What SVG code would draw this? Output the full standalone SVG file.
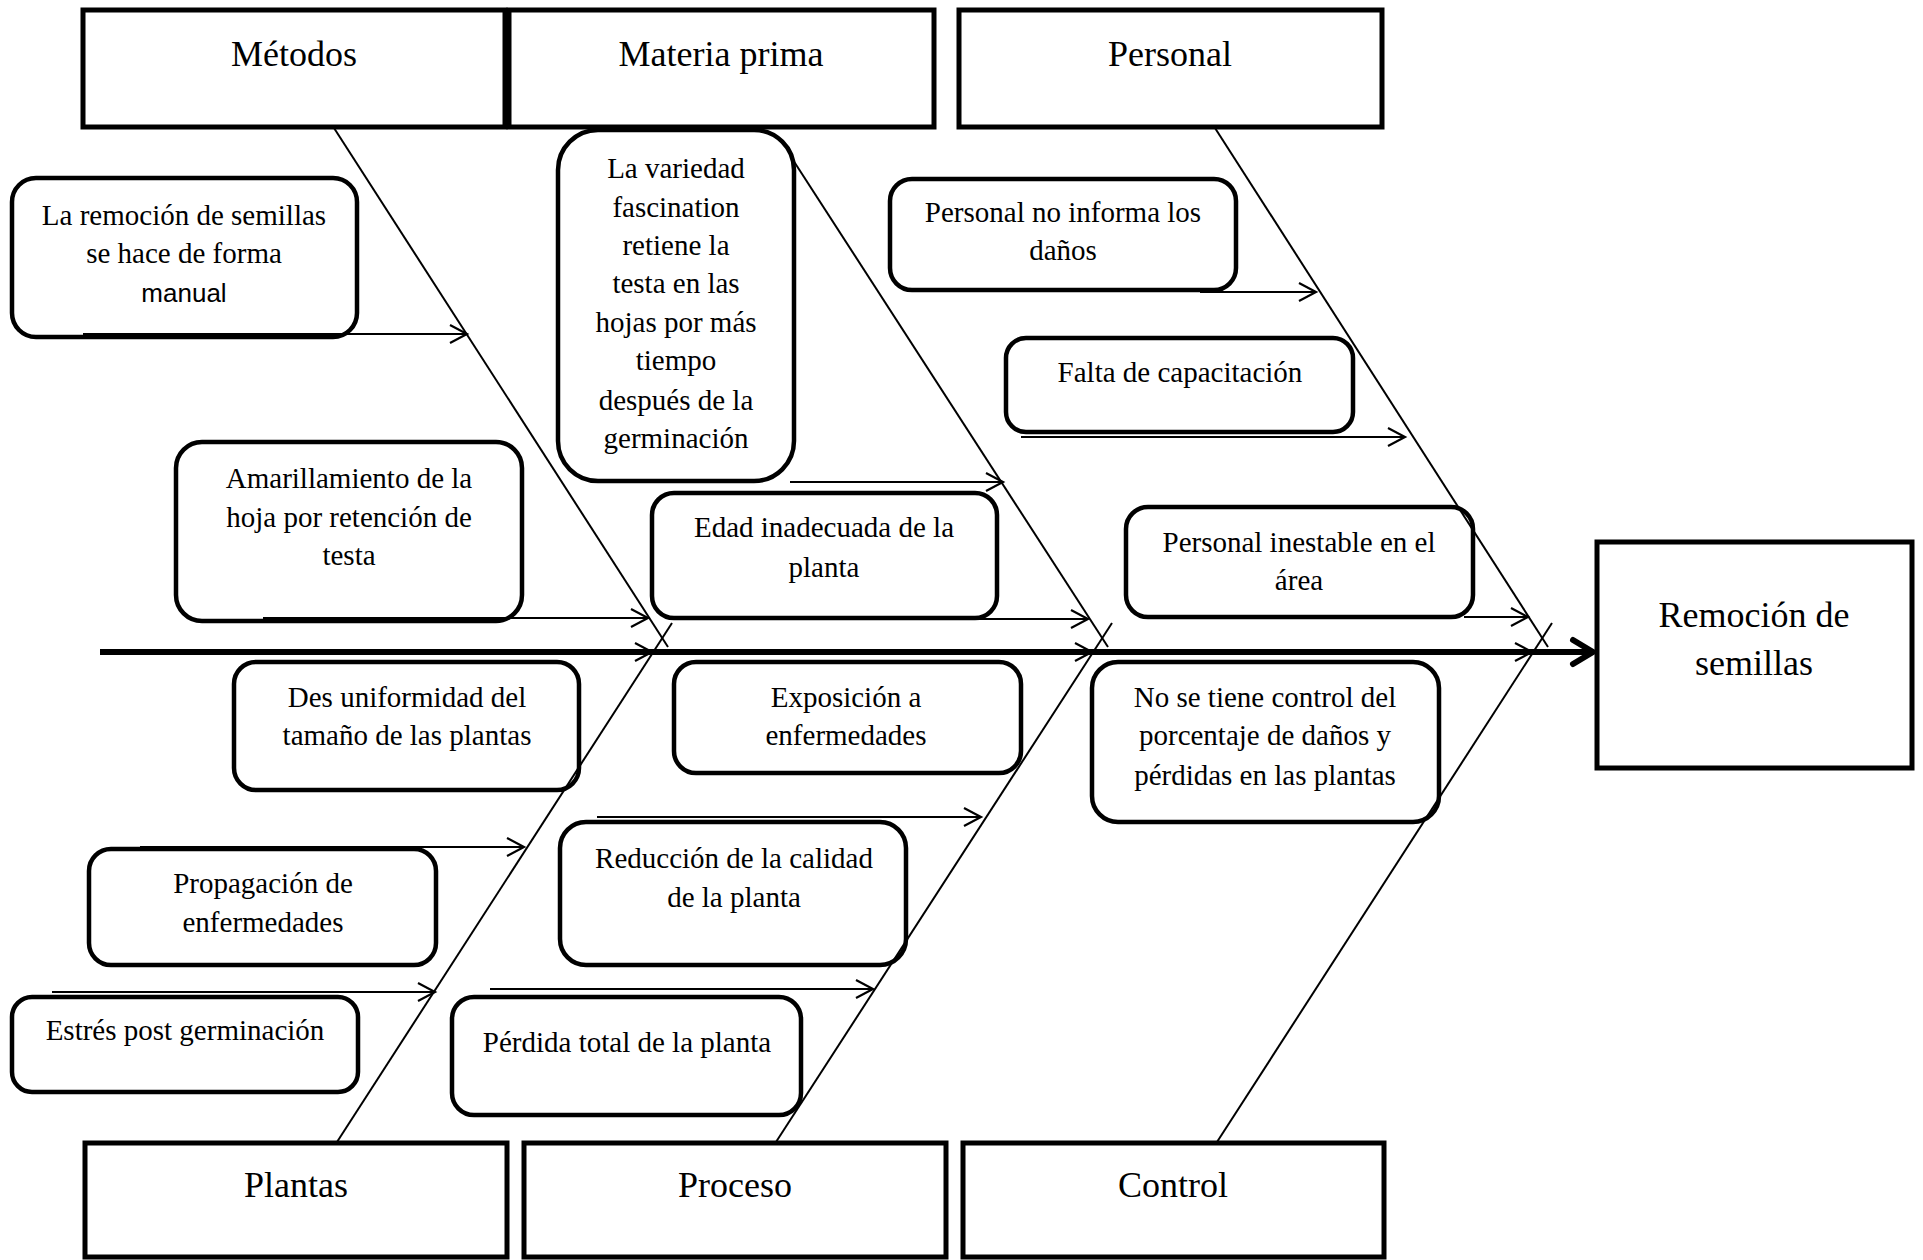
<svg xmlns="http://www.w3.org/2000/svg" width="1923" height="1260" viewBox="0 0 1923 1260">
<style>
.cat{fill:#fff;stroke:#000;stroke-width:5}
.cause{fill:#fff;stroke:#000;stroke-width:4.5}
.t{font-family:"Liberation Serif","Times New Roman",serif;fill:#000;text-anchor:middle}
.big{font-size:36px}
.sm{font-size:29px}
.sans{font-family:"Liberation Sans",Arial,sans-serif;font-size:26px;fill:#000;text-anchor:middle}
.bone{stroke:#000;stroke-width:2;fill:none}
.arr{stroke:#000;stroke-width:2.2;fill:none}
.head{stroke:#000;stroke-width:2.2;fill:none}
.spine{stroke:#000;stroke-width:6;fill:none}
</style>
<rect width="1923" height="1260" fill="#fff"/>
<g id="nodes">
<g id="metodos"><rect class="cat" x="83" y="10" width="422" height="117"/><text class="t big" x="294" y="66">Métodos</text></g>
<g id="materia-prima"><rect class="cat" x="509" y="10" width="425" height="117"/><text class="t big" x="721" y="66">Materia prima</text></g>
<g id="personal"><rect class="cat" x="959" y="10" width="423" height="117"/><text class="t big" x="1170" y="66">Personal</text></g>
<g id="plantas"><rect class="cat" x="85" y="1143" width="422" height="114"/><text class="t big" x="296" y="1197">Plantas</text></g>
<g id="proceso"><rect class="cat" x="524" y="1143" width="422" height="114"/><text class="t big" x="735" y="1197">Proceso</text></g>
<g id="control"><rect class="cat" x="963" y="1143" width="421" height="114"/><text class="t big" x="1173" y="1197">Control</text></g>
<g id="efecto"><rect class="cat" x="1597" y="542" width="315" height="226"/><text class="t big" x="1754" y="627">Remoción de</text><text class="t big" x="1754" y="675">semillas</text></g>

<g id="c-remocion"><rect class="cause" x="12" y="178" width="345" height="159" rx="24"/><text class="t sm" x="184" y="225">La remoción de semillas</text><text class="t sm" x="184" y="263">se hace de forma</text><text class="sans" x="184" y="302">manual</text></g>
<g id="c-variedad"><rect class="cause" x="558" y="130" width="236" height="351" rx="40"/><text class="t sm" x="676" y="178">La variedad</text><text class="t sm" x="676" y="217">fascination</text><text class="t sm" x="676" y="255">retiene la</text><text class="t sm" x="676" y="293">testa en las</text><text class="t sm" x="676" y="332">hojas por más</text><text class="t sm" x="676" y="370">tiempo</text><text class="t sm" x="676" y="410">después de la</text><text class="t sm" x="676" y="448">germinación</text></g>
<g id="c-amarillamiento"><rect class="cause" x="176" y="442" width="346" height="179" rx="26"/><text class="t sm" x="349" y="488">Amarillamiento de la</text><text class="t sm" x="349" y="527">hoja por retención de</text><text class="t sm" x="349" y="565">testa</text></g>
<g id="c-edad"><rect class="cause" x="652" y="493" width="345" height="125" rx="22"/><text class="t sm" x="824" y="537">Edad inadecuada de la</text><text class="t sm" x="824" y="577">planta</text></g>
<g id="c-desuniformidad"><rect class="cause" x="234" y="662" width="345" height="128" rx="22"/><text class="t sm" x="407" y="707">Des uniformidad del</text><text class="t sm" x="407" y="745">tamaño de las plantas</text></g>
<g id="c-exposicion"><rect class="cause" x="674" y="662" width="347" height="111" rx="22"/><text class="t sm" x="846" y="707">Exposición a</text><text class="t sm" x="846" y="745">enfermedades</text></g>
<g id="c-noinforma"><rect class="cause" x="890" y="179" width="346" height="111" rx="22"/><text class="t sm" x="1063" y="222">Personal no informa los</text><text class="t sm" x="1063" y="260">daños</text></g>
<g id="c-capacitacion"><rect class="cause" x="1006" y="338" width="347" height="94" rx="20"/><text class="t sm" x="1180" y="382">Falta de capacitación</text></g>
<g id="c-inestable"><rect class="cause" x="1126" y="507" width="347" height="110" rx="22"/><text class="t sm" x="1299" y="552">Personal inestable en el</text><text class="t sm" x="1299" y="590">área</text></g>
<g id="c-nocontrol"><rect class="cause" x="1092" y="662" width="347" height="160" rx="26"/><text class="t sm" x="1265" y="707">No se tiene control del</text><text class="t sm" x="1265" y="745">porcentaje de daños y</text><text class="t sm" x="1265" y="785">pérdidas en las plantas</text></g>
<g id="c-propagacion"><rect class="cause" x="89" y="849" width="347" height="116" rx="22"/><text class="t sm" x="263" y="893">Propagación de</text><text class="t sm" x="263" y="932">enfermedades</text></g>
<g id="c-estres"><rect class="cause" x="12" y="997" width="346" height="95" rx="20"/><text class="t sm" x="185" y="1040">Estrés post germinación</text></g>
<g id="c-reduccion"><rect class="cause" x="560" y="822" width="346" height="143" rx="26"/><text class="t sm" x="734" y="868">Reducción de la calidad</text><text class="t sm" x="734" y="907">de la planta</text></g>
<g id="c-perdida"><rect class="cause" x="452" y="997" width="349" height="118" rx="22"/><text class="t sm" x="627" y="1052">Pérdida total de la planta</text></g>
</g>
<g id="connectors">
<line class="bone" x1="334" y1="128" x2="668" y2="647"/>
<line class="bone" x1="793" y1="160" x2="1108" y2="647"/>
<line class="bone" x1="1215" y1="128" x2="1548" y2="647"/>
<line class="bone" x1="337" y1="1142" x2="672" y2="623"/>
<line class="bone" x1="776" y1="1142" x2="1112" y2="623"/>
<line class="bone" x1="1217" y1="1142" x2="1552" y2="623"/>
<line class="spine" x1="100" y1="652" x2="1591" y2="652"/>
<path d="M1573,640 L1593,652 L1573,664" stroke="#000" stroke-width="6" fill="none" stroke-linecap="round" stroke-linejoin="round"/>
<path class="head" d="M635,643 L652,652 L635,661 M1075,643 L1092,652 L1075,661 M1515,643 L1532,652 L1515,661"/>
<line class="arr" x1="83" y1="334" x2="467" y2="334"/><path class="head" d="M450,325 L467,334 L450,343"/>
<line class="arr" x1="263" y1="618" x2="648" y2="618"/><path class="head" d="M631,609 L648,618 L631,627"/>
<line class="arr" x1="790" y1="482" x2="1003" y2="482"/><path class="head" d="M986,473 L1003,482 L986,491"/>
<line class="arr" x1="704" y1="619" x2="1088" y2="619"/><path class="head" d="M1071,610 L1088,619 L1071,628"/>
<line class="arr" x1="1200" y1="292" x2="1316" y2="292"/><path class="head" d="M1299,283 L1316,292 L1299,301"/>
<line class="arr" x1="1021" y1="437" x2="1405" y2="437"/><path class="head" d="M1388,428 L1405,437 L1388,446"/>
<line class="arr" x1="1464" y1="617" x2="1528" y2="617"/><path class="head" d="M1511,608 L1528,617 L1511,626"/>
<line class="arr" x1="140" y1="847" x2="524" y2="847"/><path class="head" d="M507,838 L524,847 L507,856"/>
<line class="arr" x1="52" y1="992" x2="435" y2="992"/><path class="head" d="M418,983 L435,992 L418,1001"/>
<line class="arr" x1="597" y1="817" x2="981" y2="817"/><path class="head" d="M964,808 L981,817 L964,826"/>
<line class="arr" x1="490" y1="989" x2="873" y2="989"/><path class="head" d="M856,980 L873,989 L856,998"/>
</g>
</svg>
